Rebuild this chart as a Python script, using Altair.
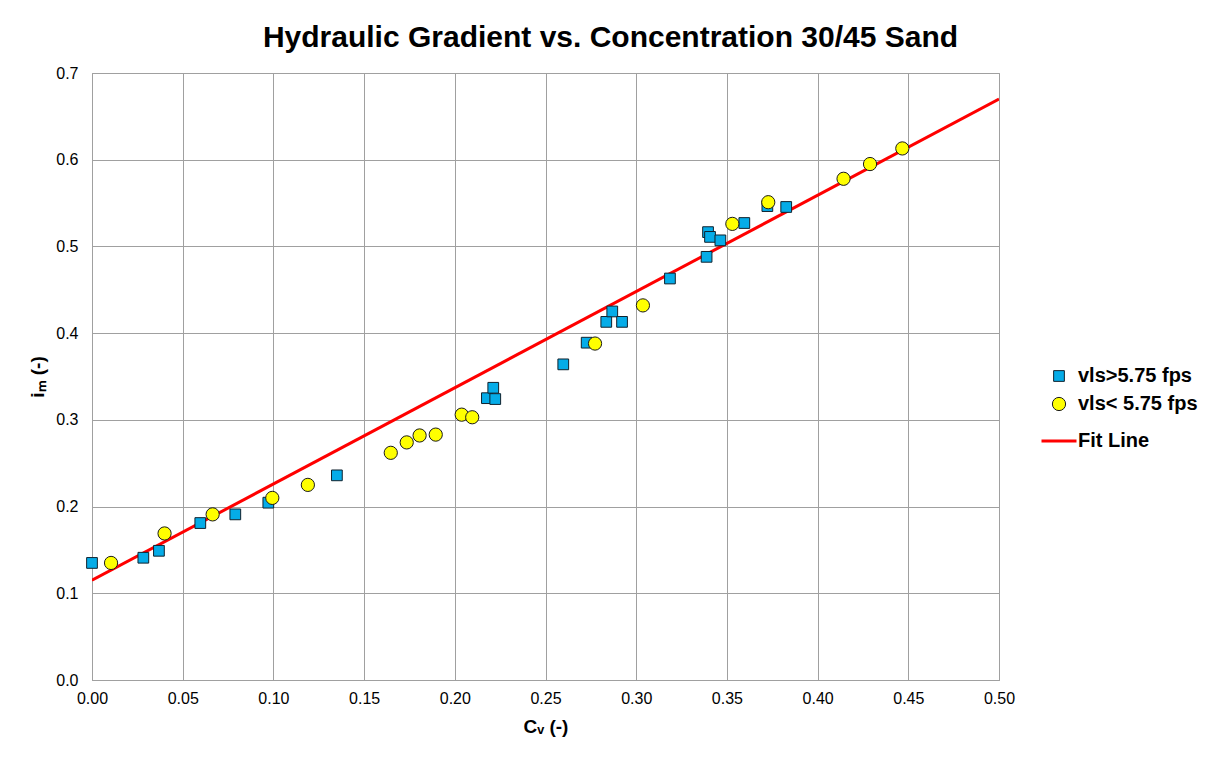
import altair as alt
import pandas as pd

# Series: vls > 5.75 fps (blue squares)
cv_fast = [0.000, 0.0283, 0.0369, 0.0597, 0.079, 0.0972, 0.135, 0.2177, 0.2212, 0.2223,
           0.2598, 0.2727, 0.2835, 0.2868, 0.2922, 0.3186, 0.3388, 0.3396, 0.3407, 0.3464,
           0.3596, 0.3723, 0.3827]
im_fast = [0.135, 0.141, 0.149, 0.181, 0.191, 0.2045, 0.236, 0.325, 0.337, 0.324,
           0.364, 0.389, 0.413, 0.425, 0.413, 0.463, 0.488, 0.5165, 0.511, 0.507,
           0.527, 0.5465, 0.5455]

# Series: vls < 5.75 fps (yellow circles)
cv_slow = [0.0105, 0.040, 0.0665, 0.0994, 0.119, 0.1647, 0.1735, 0.1806, 0.1895, 0.2038,
           0.2096, 0.2773, 0.3037, 0.353, 0.3728, 0.4143, 0.4289, 0.4467]
im_slow = [0.135, 0.169, 0.191, 0.210, 0.225, 0.262, 0.274, 0.282, 0.283, 0.306,
           0.303, 0.388, 0.432, 0.526, 0.551, 0.578, 0.595, 0.613]

# Fit line end points
cv_fit = [0.0, 0.5]
im_fit = [0.115, 0.670]

names = ["vls>5.75 fps", "vls< 5.75 fps", "Fit Line"]

pts = pd.DataFrame({
    "cv": cv_fast + cv_slow,
    "im": im_fast + im_slow,
    "series": [names[0]] * len(cv_fast) + [names[1]] * len(cv_slow),
    "ord": list(range(len(cv_fast) + len(cv_slow))),
})
fit = pd.DataFrame({"cv": cv_fit, "im": im_fit, "series": [names[2]] * 2})

dom = names
fill_scale = alt.Scale(domain=dom, range=["#05ACE8", "#FFFF00", "#FF0000"])
stroke_scale = alt.Scale(domain=dom, range=["#10222e", "#1a1a1a", "#FF0000"])
shape_scale = alt.Scale(domain=dom, range=["square", "circle", "stroke"])
size_scale = alt.Scale(type="ordinal", domain=dom, range=[115, 175, 1225])
sw_scale = alt.Scale(type="ordinal", domain=dom, range=[1, 1, 3])

leg = alt.Legend(title=None, orient="none", legendX=948, legendY=293,
                 labelFont="Liberation Sans", labelFontWeight="bold", labelFontSize=20,
                 labelColor="#000000", rowPadding=8, labelOffset=0)

xenc = alt.X("cv:Q", scale=alt.Scale(domain=[0, 0.5], nice=False),
             axis=alt.Axis(values=[0, 0.05, 0.1, 0.15, 0.2, 0.25, 0.3, 0.35, 0.4, 0.45, 0.5],
                           format=".2f", title="Cᵥ (-)", labelFlush=False))
yenc = alt.Y("im:Q", scale=alt.Scale(domain=[0, 0.7], nice=False),
             axis=alt.Axis(values=[0, 0.1, 0.2, 0.3, 0.4, 0.5, 0.6, 0.7],
                           format=".1f", title="iₘ (-)", labelFlush=False))

line = alt.Chart(fit).mark_line(clip=True).encode(
    x=xenc, y=yenc,
    stroke=alt.Stroke("series:N", scale=stroke_scale, legend=leg),
    strokeWidth=alt.StrokeWidth("series:N", scale=sw_scale, legend=leg),
)

points = alt.Chart(pts).mark_point(filled=True, opacity=1).encode(
    x=xenc, y=yenc,
    fill=alt.Fill("series:N", scale=fill_scale, legend=leg),
    stroke=alt.Stroke("series:N", scale=stroke_scale, legend=leg),
    shape=alt.Shape("series:N", scale=shape_scale, legend=leg),
    size=alt.Size("series:N", scale=size_scale, legend=leg),
    strokeWidth=alt.StrokeWidth("series:N", scale=sw_scale, legend=leg),
    order=alt.Order("ord:Q"),
)

chart = alt.layer(line, points).properties(
    width=907, height=607,
    autosize=alt.AutoSizeParams(type="none"),
    padding={"left": 84, "top": 65, "right": 204, "bottom": 70},
    title=alt.TitleParams("Hydraulic Gradient vs. Concentration 30/45 Sand",
                          font="Liberation Sans", fontSize=30, fontWeight="bold",
                          color="#000000", anchor="middle", dx=65, offset=12),
).configure_view(
    stroke="#A0A0A0", strokeWidth=1
).configure_axis(
    grid=True, gridColor="#A0A0A0", gridWidth=1, gridOpacity=1,
    domainColor="#A0A0A0", domainWidth=1, ticks=False,
    labelFont="Liberation Sans", labelFontSize=16, labelColor="#000000",
    titleFont="Liberation Sans", titleFontSize=19, titleFontWeight="bold", titleColor="#000000",
).configure_axisX(
    labelPadding=10, titlePadding=11,
).configure_axisY(
    labelPadding=14, titlePadding=8,
)

chart.save("out.html", embed_options={"renderer": "svg", "actions": False})
